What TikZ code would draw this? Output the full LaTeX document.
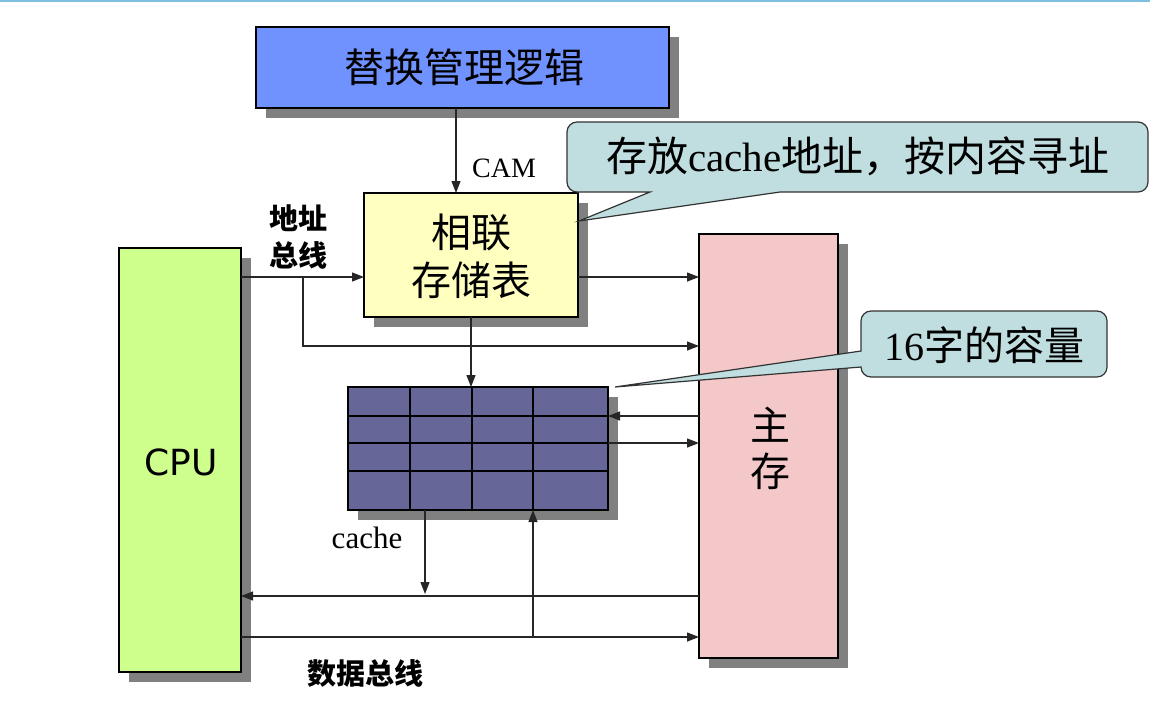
\documentclass[tikz,border=0pt]{standalone}
\usepackage{fontspec}
\setmainfont{Liberation Serif}
\newfontfamily\cjk{Noto Sans CJK SC}
\newfontfamily\cpufont{DejaVu Sans}
\usetikzlibrary{arrows.meta,shadows}
\definecolor{replblue}{RGB}{112,146,255}
\definecolor{assocyel}{RGB}{255,255,192}
\definecolor{callfill}{RGB}{192,222,224}
\definecolor{cpugreen}{RGB}{206,255,140}
\definecolor{mempink}{RGB}{244,200,200}
\definecolor{cachefill}{RGB}{102,102,153}
\definecolor{shadowgray}{RGB}{128,128,128}
\definecolor{topline}{RGB}{126,192,224}
\tikzset{
  box/.style={draw=black, line width=1.2pt, anchor=north west, inner sep=0pt, outer sep=0pt,
    general shadow={fill=shadowgray, shadow xshift=10pt, shadow yshift=-10pt}},
  arr/.style={draw=black!85, line width=1.3pt, -{Triangle[length=12pt,width=9pt]}},
  callout/.style={draw=black!80, line width=1.2pt, fill=callfill},
  grid/.style={draw=black, line width=1.2pt},
  lbl/.style={inner sep=0pt, align=center}
}
\begin{document}
\begin{tikzpicture}[x=1pt,y=-1pt]
\useasboundingbox (0,0) rectangle (1150,716);
\fill[topline] (0,0) rectangle (1150,2);

% boxes
\node[box, fill=replblue, minimum width=413pt, minimum height=81pt] (repl) at (256,27) {};
\node[lbl, font=\cjk\fontsize{40}{44}\selectfont] (repltxt) at (464,67) {替换管理逻辑};

\node[box, fill=assocyel, minimum width=214pt, minimum height=124pt] (assoc) at (364,193) {};
\node[lbl, font=\cjk\fontsize{40}{48}\selectfont] (assoctxt) at (471,256) {相联\\存储表};

\node[box, fill=cpugreen, minimum width=122pt, minimum height=424pt] (cpu) at (119,248) {};
\node[lbl, font=\cpufont\fontsize{36}{40}\selectfont] (cputxt) at (181,462) {CPU};

\node[box, fill=mempink, minimum width=139pt, minimum height=424pt] (mem) at (699,234) {};
\node[lbl, font=\cjk\fontsize{40}{46}\selectfont] (memtxt) at (770,448) {主\\存};

\node[box, fill=cachefill, minimum width=260pt, minimum height=123pt] (cache) at (348,387) {};
\draw[grid] (410,387) -- (410,510);
\draw[grid] (472,387) -- (472,510);
\draw[grid] (533,387) -- (533,510);
\draw[grid] (348,416) -- (608,416);
\draw[grid] (348,443) -- (608,443);
\draw[grid] (348,471) -- (608,471);

% callouts
\path[callout] (567,122) [rounded corners=10pt] -- (1148,122) -- (1148,192) [sharp corners] -- (780,192) -- (579,221) -- (650,192) [rounded corners=10pt] -- (567,192) -- cycle;
\node[lbl, font=\fontsize{41}{44}\selectfont] (c1txt) at (858,156) {{\cjk 存放}cache{\cjk 地址，按内容寻址}};

\path[callout] (861,311) [rounded corners=10pt] -- (1107,311) -- (1107,377) -- (861,377) [sharp corners] -- (861,367) -- (615,387) -- (861,351) [rounded corners=10pt] -- cycle;
\node[lbl, font=\fontsize{40}{44}\selectfont] (c2txt) at (984,345) {16{\cjk 字的容量}};

% labels
\node[lbl, font=\fontsize{28}{32}\selectfont] (camtxt) at (504,168) {CAM};
\node[lbl, font=\cjk\bfseries\fontsize{29}{37}\selectfont] (abtxt) at (298,237) {地址\\总线};
\node[lbl, font=\fontsize{31}{34}\selectfont] (cachetxt) at (367,538) {cache};
\node[lbl, font=\cjk\bfseries\fontsize{29}{32}\selectfont] (dbtxt) at (365,673) {数据总线};

% connectors
\draw[arr] (repl.south -| 456,0) -- (assoc.north -| 456,0);
\draw[arr] (cpu.east |- 0,277) -- (assoc.west |- 0,277);
\coordinate (br) at (303,277);
\coordinate (brd) at (303,346);
\draw[arr] (br) -- (brd) -- (mem.west |- brd);
\draw[arr] (assoc.east |- 0,277) -- (mem.west |- 0,277);
\draw[arr] (assoc.south) -- (assoc.south |- cache.north);
\draw[arr] (mem.west |- 0,416) -- (cache.east |- 0,416);
\draw[arr] (cache.east |- 0,443) -- (mem.west |- 0,443);
\coordinate (dbt) at (425,594);
\draw[arr] (cache.south -| dbt) -- (dbt);
\draw[arr] (mem.west |- 0,596) -- (cpu.east |- 0,596);
\draw[arr] (cpu.east |- 0,637) -- (mem.west |- 0,637);
\coordinate (dbu) at (533,637);
\draw[arr] (dbu) -- (cache.south -| dbu);
\end{tikzpicture}
\end{document}
